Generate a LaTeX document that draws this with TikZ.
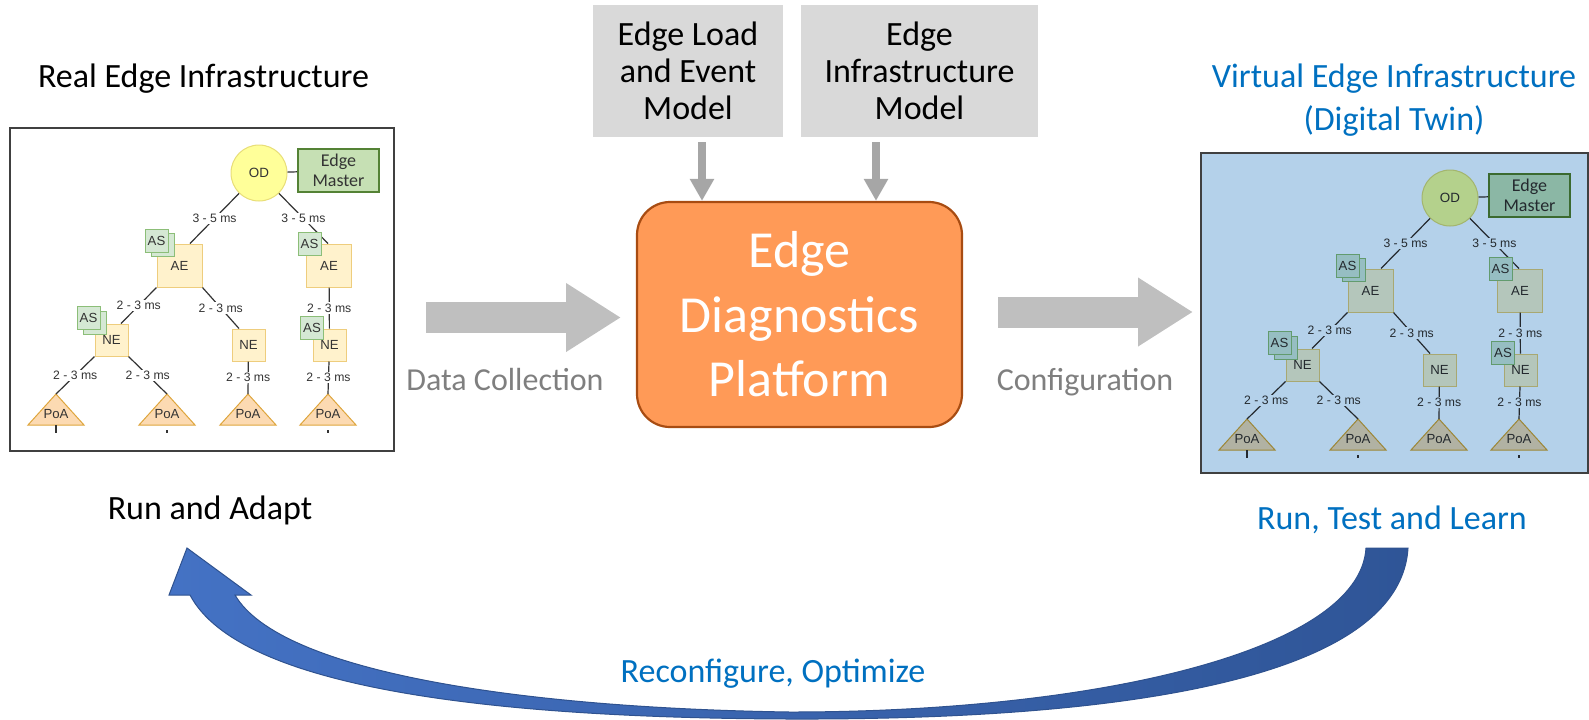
\documentclass[tikz,border=0pt]{standalone}
\usepackage{fontspec}
\setmainfont{Carlito}
\newfontfamily\arialf{Liberation Sans}
\usetikzlibrary{arrows.meta,calc}

\definecolor{odF}{RGB}{255,255,153}
\definecolor{odD}{RGB}{232,222,120}
\definecolor{emF}{RGB}{198,224,180}
\definecolor{emD}{RGB}{84,130,53}
\definecolor{aeF}{RGB}{255,242,204}
\definecolor{aeD}{RGB}{238,205,125}
\definecolor{asF}{RGB}{213,232,212}
\definecolor{asD}{RGB}{140,190,120}
\definecolor{poaF}{RGB}{252,218,178}
\definecolor{poaD}{RGB}{222,165,60}
\definecolor{lnkC}{RGB}{51,51,51}
\definecolor{twinBg}{RGB}{180,209,234}
\definecolor{boxLine}{RGB}{64,64,64}
\definecolor{modelF}{RGB}{217,217,217}
\definecolor{downG}{RGB}{166,166,166}
\definecolor{fatG}{RGB}{191,191,191}
\definecolor{edpF}{RGB}{255,154,87}
\definecolor{edpD}{RGB}{168,76,18}
\definecolor{blueT}{RGB}{0,112,192}
\definecolor{grayT}{RGB}{127,127,127}
\definecolor{loopL}{RGB}{68,114,196}
\definecolor{loopR}{RGB}{47,85,151}
\definecolor{loopD}{RGB}{47,82,143}

\newcommand{\setfs}[2]{\fontsize{#1}{#2}\selectfont}

% one edge topology: orchestrator, aggregation, network edges, points of access
\newcommand{\edgetree}[1]{%
  \node[odc] (#1od) at (259,173) {OD};
  \node[emb] (#1em) at (338.5,170.5) {Edge\\Master};
  \draw[lnk] (#1od) -- (#1em);
  \node[aeb] (#1ael) at (179.5,265.5) {AE};
  \node[aeb] (#1aer) at (329,265.5) {AE};
  \node[neb] (#1nel) at (111.5,340) {NE};
  \node[neb] (#1nem) at (248.5,345) {NE};
  \node[neb] (#1ner) at (329.5,345) {NE};
  \foreach \i/\px in {1/56,2/167,3/248,4/328} {
    \filldraw[poa] (\px-28,425) -- (\px,394) coordinate (#1p\i) -- (\px+28,425) -- cycle;
    \node[ptxt] (#1poa\i) at (\px,414) {PoA};
  }
  \draw[lnk] (#1od) -- node[lat] {3 - 5 ms} ([xshift=5.25pt]#1ael.north);
  \draw[lnk] (#1od) -- node[lat] {3 - 5 ms} ([xshift=-0.5pt]#1aer.north);
  \draw[lnk] (#1ael.south west) -- node[lat] {2 - 3 ms} ([xshift=4.75pt]#1nel.north);
  \draw[lnk] (#1ael.south east) -- node[lat] {2 - 3 ms} ([xshift=-4.75pt]#1nem.north);
  \draw[lnk] (#1aer) -- node[lat] {2 - 3 ms} (#1ner);
  \draw[lnk] (#1nel.south west) -- node[lat] {2 - 3 ms} (#1p1);
  \draw[lnk] (#1nel.south east) -- node[lat] {2 - 3 ms} (#1p2);
  \draw[lnk] (#1nem) -- node[lat] {2 - 3 ms} (#1p3);
  \draw[lnk] (#1ner) -- node[lat] {2 - 3 ms} (#1p4);
  \draw[lnk] (56,425) -- (56,433);
  \draw[lnk] (167,430) -- (167,432.5);
  \draw[lnk] (328,430) -- (328,432.5);
  \node[asb] (#1as1b) at (162.5,245) {};
  \node[asb] (#1as1) at (156.5,241) {AS};
  \node[asb] (#1as2) at (309.5,244) {AS};
  \node[asb] (#1as3b) at (94.5,322.5) {};
  \node[asb] (#1as3) at (88.5,317.5) {AS};
  \node[asb] (#1as4) at (312,327.5) {AS};
}

\begin{document}
\begin{tikzpicture}[x=0.5pt,y=-0.5pt,
  odc/.style={circle, fill=odF, draw=odD, line width=0.5pt, minimum size=28pt, inner sep=0pt, font=\arialf\setfs{6.7}{7.5}, text=lnkC},
  emb/.style={rectangle, fill=emF, draw=emD, line width=1.1pt, minimum width=40.5pt, minimum height=21.5pt, inner sep=0pt, align=center, font=\setfs{9}{10}, text=lnkC},
  aeb/.style={rectangle, fill=aeF, draw=aeD, line width=0.5pt, minimum width=22.5pt, minimum height=21.5pt, inner sep=0pt, font=\arialf\setfs{6.6}{7.5}, text=lnkC},
  neb/.style={aeb, minimum width=16.5pt, minimum height=16pt},
  asb/.style={rectangle, fill=asF, draw=asD, line width=0.5pt, minimum size=11.5pt, inner sep=0pt, font=\arialf\setfs{6.6}{7.5}, text=lnkC},
  lnk/.style={draw=lnkC, line width=0.6pt},
  lat/.style={fill=white, inner sep=0.6pt, font=\arialf\setfs{6.1}{7}, text=lnkC},
  poa/.style={fill=poaF, draw=poaD, line width=0.5pt},
  ptxt/.style={inner sep=0pt, font=\arialf\setfs{6.6}{7.5}, text=lnkC},
  infobox/.style={rectangle, draw=boxLine, line width=1.3pt, minimum width=192pt, minimum height=161.5pt, inner sep=0pt},
  ttl/.style={font=\setfs{17}{21.5}, inner sep=0pt},
  modelbox/.style={rectangle, fill=modelF, minimum height=66pt, inner sep=0pt, align=center, font=\setfs{17}{18.5}},
  downarrow/.style={draw=downG, line width=4pt, -{Triangle[width=11.5pt,length=11pt]}},
  fatarrow/.style={draw=fatG, line width=15.5pt, -{Triangle[width=32.5pt,length=27.5pt]}},
  flowlbl/.style={font=\setfs{16}{19}, text=grayT, inner sep=0pt}
]
\useasboundingbox (0,0) rectangle (1589,719);

% real infrastructure
\node[infobox] (lbox) at (202,289.5) {};
\edgetree{l}
\node[ttl, anchor=base] (tReal) at (203.5,87) {Real Edge Infrastructure};
\node[ttl, anchor=base] (tRun) at (210,519) {Run and Adapt};

% digital twin: same topology under a blue tint
\begin{scope}[shift={(1191,25)}]
  \edgetree{r}
\end{scope}
\begin{scope}[blend mode=multiply]
  \fill[twinBg] (1201,153) rectangle (1588,473);
\end{scope}
\node[infobox, minimum width=193.5pt, minimum height=160pt] (rbox) at (1394.5,313) {};
\node[ttl, anchor=base, text=blueT, align=center] (tVirt) at (1394,130) {Virtual Edge Infrastructure\\(Digital Twin)};
\node[ttl, anchor=base, text=blueT] (tLearn) at (1392,529) {Run, Test and Learn};

% models and platform
\node[modelbox, minimum width=95pt] (gb1) at (688,71) {Edge Load\\and Event\\Model};
\node[modelbox, minimum width=118.5pt] (gb2) at (919.5,71) {Edge\\Infrastructure\\Model};
\node[rectangle, rounded corners=16.5pt, fill=edpF, draw=edpD, line width=1.1pt,
      minimum width=162.5pt, minimum height=112.5pt, inner sep=0pt, align=center,
      text=white, font=\setfs{26}{32.25}] (edp) at (799.5,314.5) {Edge\\Diagnostics\\Platform};

\draw[downarrow] ([xshift=7pt,yshift=-2.5pt]gb1.south) -- ([xshift=7pt]gb1.south |- edp.north);
\draw[downarrow] ([xshift=-21.75pt,yshift=-2.5pt]gb2.south) -- ([xshift=-21.75pt]gb2.south |- edp.north);

% data flow arrows
\coordinate (dc1) at (426,317.5);
\coordinate (dc2) at (621,317.5);
\draw[fatarrow] (dc1) -- (dc2);
\node[flowlbl, anchor=base] (tData) at (505,390) {Data Collection};
\coordinate (cf1) at (998,312);
\coordinate (cf2) at (1193,312);
\draw[fatarrow] (cf1) -- (cf2);
\node[flowlbl, anchor=base] (tConf) at (1085,390) {Configuration};

% feedback loop
\shade[left color=loopL, right color=loopR, draw=loopD, line width=0.5pt]
  (1408,548) .. controls (1400,680) and (1120,720) .. (790,719)
  .. controls (500,718) and (240,690) .. (190,595)
  -- (169,595) -- (187,548) -- (251,595) -- (235,595)
  .. controls (280,672) and (520,708) .. (790,712)
  .. controls (1100,712) and (1360,650) .. (1366,548) -- cycle;
\node[ttl, anchor=base, text=blueT] (tReconf) at (773,682) {Reconfigure, Optimize};
\end{tikzpicture}
\end{document}
